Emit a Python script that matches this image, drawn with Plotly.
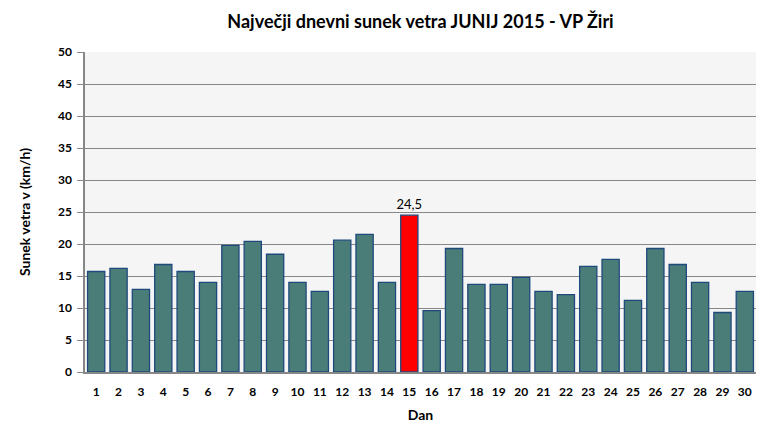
import plotly.graph_objects as go

days = [str(d) for d in range(1, 31)]
values = [15.7, 16.2, 12.9, 16.8, 15.7, 14.0, 19.8, 20.4, 18.4, 14.0,
          12.6, 20.6, 21.5, 14.0, 24.5, 9.6, 19.3, 13.7, 13.7, 14.8,
          12.6, 12.1, 16.5, 17.6, 11.2, 19.3, 16.8, 14.0, 9.3, 12.6]
max_idx = values.index(max(values))
colors = ["#FF0000" if i == max_idx else "#4A7D77" for i in range(len(values))]
labels = ["24,5" if i == max_idx else "" for i in range(len(values))]

FONT = "Lato"
# page body has an 8px margin, so the figure is drawn 8px smaller
W, H = 760, 429
fig = go.Figure(go.Bar(
    x=days, y=values,
    marker=dict(color=colors, line=dict(color="#1F497D", width=1.3)),
    text=labels, textposition="outside", constraintext="none",
    textfont=dict(family=FONT, size=13, color="#000000"),
    cliponaxis=False,
))
fig.update_layout(
    width=W, height=H,
    margin=dict(l=77, r=12, t=44, b=65),
    paper_bgcolor="white", plot_bgcolor="#F5F5F5",
    bargap=0.23,
    showlegend=False,
    title=dict(text="<b>Največji dnevni sunek vetra JUNIJ 2015 - VP Žiri</b>",
               x=0.5, xanchor="center", xref="paper",
               y=1 - 14 / H, yanchor="middle", yref="container",
               font=dict(family=FONT, size=18, color="#000000")),
    font=dict(family=FONT, color="#000000"),
)
fig.update_xaxes(
    title=dict(text="<b>Dan</b>", font=dict(size=14), standoff=12),
    tickfont=dict(size=12, family=FONT), tickprefix="<b>", ticksuffix="</b>",
    ticklabelstandoff=8,
    showline=True, linecolor="#878787", linewidth=1.5,
    showgrid=False, ticks="",
)
fig.update_yaxes(
    title=dict(text="<b>Sunek vetra v (km/h)</b>", font=dict(size=14), standoff=24),
    range=[0, 50], dtick=5,
    tickfont=dict(size=12, family=FONT), tickprefix="<b>", ticksuffix="</b>",
    showline=True, linecolor="#878787", linewidth=1.5,
    showgrid=True, gridcolor="#878787", gridwidth=1,
    ticks="outside", ticklen=6, tickcolor="#878787",
    ticklabelstandoff=3,
    zeroline=False,
)
fig.write_html("out.html")
